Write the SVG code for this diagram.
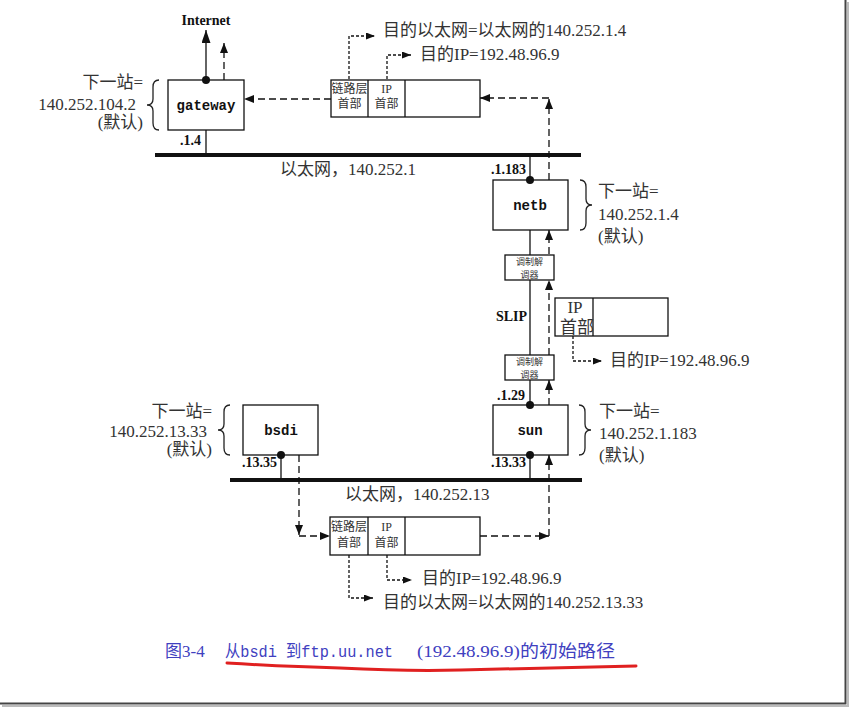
<svg xmlns="http://www.w3.org/2000/svg" width="849" height="708" viewBox="0 0 849 708">
<style>
.box{fill:#fff;stroke:#111;stroke-width:1.3}
.net{stroke:#111;stroke-width:4;fill:none}
.link{stroke:#111;stroke-width:1.3;fill:none}
.dash{stroke:#111;stroke-width:1.3;fill:none;stroke-dasharray:7 4}
.dot{stroke:#111;stroke-width:1.3;fill:none;stroke-dasharray:3 2}
.brace{stroke:#222;stroke-width:1.3;fill:none}
.node{font-family:"Liberation Mono",monospace;font-weight:bold;font-size:14px;fill:#111;text-anchor:middle}
.lbl{font-family:"Liberation Serif","Noto Sans CJK SC",serif;font-size:17px;fill:#333}
.blbl{font-family:"Liberation Serif","Noto Sans CJK SC",serif;font-size:17px;fill:#333}
.bold{font-family:"Liberation Serif",serif;font-weight:bold;font-size:14px;fill:#111}
.cell{font-family:"Liberation Serif","Noto Sans CJK SC",serif;font-size:12px;fill:#333;text-anchor:middle}
.modem{font-family:"Noto Sans CJK SC",sans-serif;font-size:9px;fill:#333;text-anchor:middle}
.cap{font-family:"Liberation Serif","Noto Sans CJK SC",serif;font-size:17px;fill:#4040c0}
.capm{font-family:"Liberation Mono","Noto Sans CJK SC",monospace;font-size:17px;fill:#4040c0}
</style>
<defs>
<marker id="arr" markerUnits="userSpaceOnUse" markerWidth="10" markerHeight="8" refX="10" refY="4" orient="auto"><path d="M0,0 L10,4 L0,8 z" fill="#111"/></marker>
<marker id="big" markerUnits="userSpaceOnUse" markerWidth="13" markerHeight="9" refX="13" refY="4.5" orient="auto"><path d="M0,0 L13,4.5 L0,9 z" fill="#111"/></marker>
<marker id="sm" markerUnits="userSpaceOnUse" markerWidth="9" markerHeight="7" refX="9" refY="3.5" orient="auto"><path d="M0,0 L9,3.5 L0,7 z" fill="#111"/></marker>
</defs>
<rect x="0" y="0" width="849" height="708" fill="#fff"/>

<g id="networks">
<path class="net" d="M155,155 H581"/>
<text class="lbl" x="280" y="175">以太网，140.252.1</text>
<path class="net" d="M230,480 H582"/>
<text class="lbl" x="345" y="500">以太网，140.252.13</text>
</g>

<g id="connectors">
<path class="link" d="M206,130 V155"/>
<path class="link" d="M530,155 V180"/>
<path class="link" d="M530,230 V255"/>
<path class="link" d="M530,280 V355"/>
<path class="link" d="M530,380 V405"/>
<path class="link" d="M530,455 V480"/>
<path class="link" d="M281,455 V480"/>
<path class="link" d="M206,80 V30" marker-end="url(#big)"/>
<path class="dash" d="M224,80 V43" marker-end="url(#arr)"/>
<path class="dash" d="M331,99 H244" marker-end="url(#arr)"/>
<path class="dash" d="M549,180 V99" marker-end="url(#arr)"/>
<path class="dash" d="M549,98 H480" marker-end="url(#arr)"/>
<path class="dash" d="M549,254 V230" marker-end="url(#arr)"/>
<path class="dash" d="M549,355 V280" marker-end="url(#arr)"/>
<path class="dash" d="M549,405 V380" marker-end="url(#arr)"/>
<path class="dash" d="M299,455 V535" marker-end="url(#arr)"/>
<path class="dash" d="M299,536 H330" marker-end="url(#arr)"/>
<path class="dash" d="M480,536 H549" marker-end="url(#arr)"/>
<path class="dash" d="M549,536 V455" marker-end="url(#arr)"/>
<path class="dot" d="M349,79 V36 H375" marker-end="url(#sm)"/>
<path class="dot" d="M387,79 V55 H411" marker-end="url(#sm)"/>
<path class="dot" d="M573,336 V361 H602" marker-end="url(#sm)"/>
<path class="dot" d="M349,555 V598 H373" marker-end="url(#sm)"/>
<path class="dot" d="M387,555 V580 H412" marker-end="url(#sm)"/>
</g>

<g id="internet">
<text class="bold" x="206" y="25" text-anchor="middle">Internet</text>
</g>

<g id="gateway">
<rect class="box" x="168" y="80" width="76" height="50"/>
<text class="node" x="206" y="110">gateway</text>
<circle cx="206" cy="80" r="4" fill="#111"/>
<text class="bold" x="180" y="145">.1.4</text>
<path class="brace" d="M159,80 Q153,80 153,87 L153,99 Q153,105 147,105 Q153,105 153,111 L153,123 Q153,130 159,130"/>
<text class="blbl" x="143" y="88" text-anchor="end">下一站=</text>
<text class="blbl" x="136" y="110" text-anchor="end">140.252.104.2</text>
<text class="blbl" x="143" y="128" text-anchor="end">(默认)</text>
</g>

<g id="packet-top">
<rect class="box" x="331" y="80" width="149" height="37"/>
<path class="link" d="M368,80 V117 M405,80 V117"/>
<text class="cell" x="349.5" y="93">链路层</text>
<text class="cell" x="349.5" y="108">首部</text>
<text class="cell" x="386.5" y="93">IP</text>
<text class="cell" x="386.5" y="108">首部</text>
<text class="lbl" x="383" y="36">目的以太网=以太网的140.252.1.4</text>
<text class="lbl" x="420" y="60">目的IP=192.48.96.9</text>
</g>

<g id="netb">
<rect class="box" x="493" y="180" width="75" height="50"/>
<text class="node" x="530" y="210">netb</text>
<circle cx="530" cy="180" r="4" fill="#111"/>
<text class="bold" x="491" y="174">.1.183</text>
<path class="brace" d="M580,180 Q586,180 586,187 L586,199 Q586,205 592,205 Q586,205 586,211 L586,223 Q586,230 580,230"/>
<text class="blbl" x="598" y="197">下一站=</text>
<text class="blbl" x="598" y="220">140.252.1.4</text>
<text class="blbl" x="598" y="242">(默认)</text>
</g>

<g id="modem-netb">
<rect class="box" x="505" y="255" width="49" height="25"/>
<text class="modem" x="529.5" y="265">调制解</text>
<text class="modem" x="529.5" y="277.5">调器</text>
</g>

<g id="slip">
<text class="bold" x="496" y="321">SLIP</text>
</g>

<g id="packet-slip">
<rect class="box" x="555" y="298" width="113" height="38"/>
<path class="link" d="M593,298 V336"/>
<text class="blbl" x="575" y="313" text-anchor="middle" font-size="15">IP</text>
<text class="blbl" x="577" y="333" text-anchor="middle" font-size="15">首部</text>
<text class="lbl" x="610" y="366">目的IP=192.48.96.9</text>
</g>

<g id="modem-sun">
<rect class="box" x="505" y="355" width="49" height="25"/>
<text class="modem" x="529.5" y="365">调制解</text>
<text class="modem" x="529.5" y="377.5">调器</text>
</g>

<g id="sun">
<rect class="box" x="493" y="405" width="75" height="50"/>
<text class="node" x="530" y="435">sun</text>
<circle cx="530" cy="405" r="4" fill="#111"/>
<circle cx="530" cy="455" r="4" fill="#111"/>
<text class="bold" x="497" y="400">.1.29</text>
<text class="bold" x="491" y="467">.13.33</text>
<path class="brace" d="M579,405 Q585,405 585,412 L585,424 Q585,430 591,430 Q585,430 585,436 L585,448 Q585,455 579,455"/>
<text class="blbl" x="599" y="417">下一站=</text>
<text class="blbl" x="599" y="439">140.252.1.183</text>
<text class="blbl" x="599" y="461">(默认)</text>
</g>

<g id="bsdi">
<rect class="box" x="243" y="405" width="75" height="50"/>
<text class="node" x="281" y="435">bsdi</text>
<circle cx="281" cy="455" r="4" fill="#111"/>
<text class="bold" x="242" y="467">.13.35</text>
<path class="brace" d="M230,405 Q224,405 224,412 L224,424 Q224,430 218,430 Q224,430 224,436 L224,448 Q224,455 230,455"/>
<text class="blbl" x="212" y="417" text-anchor="end">下一站=</text>
<text class="blbl" x="207" y="437" text-anchor="end">140.252.13.33</text>
<text class="blbl" x="212" y="455" text-anchor="end">(默认)</text>
</g>

<g id="packet-bottom">
<rect class="box" x="330" y="517" width="150" height="38"/>
<path class="link" d="M368,517 V555 M405,517 V555"/>
<text class="cell" x="349" y="531">链路层</text>
<text class="cell" x="349" y="547">首部</text>
<text class="cell" x="386.5" y="531">IP</text>
<text class="cell" x="386.5" y="547">首部</text>
<text class="lbl" x="422" y="584">目的IP=192.48.96.9</text>
<text class="lbl" x="383" y="608">目的以太网=以太网的140.252.13.33</text>
</g>

<g id="caption">
<text class="cap" x="165" y="657">图3-4</text>
<text class="capm" x="225" y="657" textLength="168" lengthAdjust="spacingAndGlyphs">从bsdi 到ftp.uu.net</text>
<text class="cap" x="417" y="657" textLength="198" lengthAdjust="spacingAndGlyphs">(192.48.96.9)的初始路径</text>
<path d="M227,663 C260,665 300,667 340,668 C380,670 420,671 460,670 C520,669 580,667 636,666" fill="none" stroke="#e02020" stroke-width="3" stroke-linecap="round"/>
</g>

<g id="frame">
<path d="M0,703.5 H845.5 V0" fill="none" stroke="#444" stroke-width="2"/>
<path d="M2,706 H848 V2" fill="none" stroke="#bbb" stroke-width="2"/>
</g>
</svg>
